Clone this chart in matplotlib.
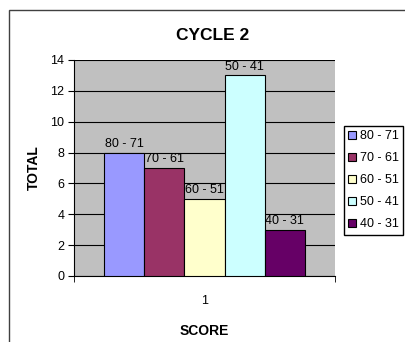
import matplotlib
matplotlib.use("Agg")
from matplotlib import pyplot as plt
from matplotlib.patches import Rectangle

plt.rcParams['font.family'] = ['Liberation Sans', 'DejaVu Sans']

# score bands and how many students fell in each
bands = ["80 - 71", "70 - 61", "60 - 51", "50 - 41", "40 - 31"]
totals = [8, 7, 5, 13, 3]
colours = ["#9999FF", "#993366", "#FFFFCC", "#CCFFFF", "#660066"]
category = ["1"]

W, H = 405, 342
fig = plt.figure(figsize=(W / 100, H / 100), dpi=100)
ax = fig.add_axes([74 / W, 1 - 276 / H, (335 - 74) / W, (276 - 60) / H])

# outer chart frame (runs off the right and bottom edges like the original)
fig.patches.append(Rectangle((9 / W, -0.1), 1.2, 1 - 10 / H + 0.1,
                             transform=fig.transFigure, fill=False,
                             edgecolor="#404040", linewidth=1))

ax.set_facecolor("#C0C0C0")
bar_w = 0.77 / len(bands)
start = -0.77 / 2
handles = []
for i, (lab, val, col) in enumerate(zip(bands, totals, colours)):
    x = start + bar_w * (i + 0.5)
    b = ax.bar(x, val, width=bar_w, color=col, edgecolor="black",
               linewidth=0.8, label=lab, zorder=3)
    handles.append(b)
    ax.annotate(lab, (x, val), xytext=(0, 2), textcoords="offset points",
                ha="center", va="bottom", fontsize=9, zorder=4)

ax.set_xlim(-0.5, 0.5)
ax.set_ylim(0, 14)
ax.set_yticks(range(0, 15, 2))
ax.yaxis.grid(True, color="black", linewidth=0.8, zorder=1)
ax.set_xticks([0])
ax.set_xticklabels(category)
ax.set_xticks([-0.5, 0.5], minor=True)
ax.tick_params(axis="x", which="major", length=0, pad=14, labelsize=9)
ax.tick_params(axis="x", which="minor", length=4, direction="out")
ax.tick_params(axis="y", length=4, direction="out", labelsize=9, pad=3)
for s in ["top", "right"]:
    ax.spines[s].set_visible(False)
ax.spines["left"].set_linewidth(0.8)
ax.spines["bottom"].set_linewidth(0.8)

ax.set_ylabel("TOTAL", fontsize=10, fontweight="bold", labelpad=7)
ax.set_xlabel("SCORE", fontsize=10, fontweight="bold", labelpad=12)
fig.text(213 / W, 1 - 35 / H, "CYCLE 2", ha="center", va="center",
         fontsize=12.5, fontweight="bold")

fig.legend(handles=handles, labels=bands, loc="upper left",
           bbox_to_anchor=(344 / W, 1 - 126 / H), fontsize=9,
           fancybox=False, edgecolor="black", framealpha=1,
           handlelength=0.6, handleheight=0.6, handletextpad=0.3,
           labelspacing=0.8, borderpad=0.35, borderaxespad=0)

fig.savefig("out.png", dpi=100)
